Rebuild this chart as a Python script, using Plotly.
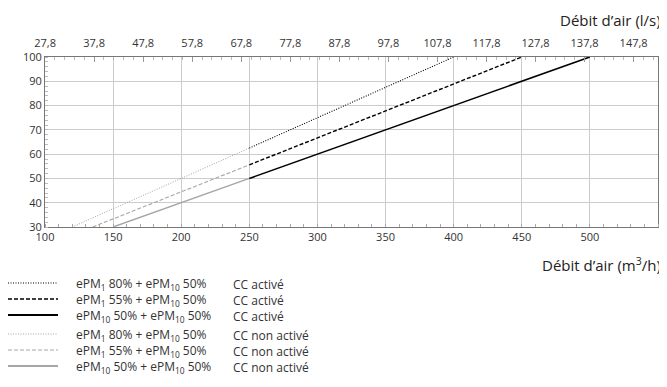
import plotly.graph_objects as go

# Data
series_names = ["ePM<sub>1</sub> 80% + ePM<sub>10</sub> 50%",
                "ePM<sub>1</sub> 55% + ePM<sub>10</sub> 50%",
                "ePM<sub>10</sub> 50% + ePM<sub>10</sub> 50%"]
# CC non activé (grey) segments
off_x = [[120, 250], [135, 250], [150, 250]]
off_y = [[30, 62.5], [30, 55.6], [30, 50]]
# CC activé (black) segments
on_x = [[250, 400], [250, 450], [250, 500]]
on_y = [[62.5, 100], [55.6, 100], [50, 100]]
dashes = ["1px,1.5px", "4px,2px", "solid"]
widths_on = [1.1, 1.4, 1.6]
widths_off = [1.0, 1.1, 1.4]
legend_w_on = [1.1, 1.4, 2.2]
legend_w_off = [1.0, 1.1, 1.8]

x_ticks = [100, 150, 200, 250, 300, 350, 400, 450, 500, 550]
y_ticks = [30, 40, 50, 60, 70, 80, 90, 100]
top_ticks = [27.8, 37.8, 47.8, 57.8, 67.8, 77.8, 87.8, 97.8, 107.8, 117.8, 127.8, 137.8, 147.8]

# page body has an 8px margin: figure is offset by 8px
OFF = 8
W, H = 667 - OFF, 387 - OFF
L, R, T, B = 45 - OFF, 9, 57 - OFF, 160
pw, ph = W - L - R, H - T - B
def px(x): return (x - OFF - L) / pw
def py(y): return (H - B - (y - OFF)) / ph

FONT = "Open Sans"
TXT = "#333333"
GREY = "#a6a6a6"
fig = go.Figure()
for i in range(3):
    fig.add_trace(go.Scatter(x=off_x[i], y=off_y[i], mode="lines",
                             line=dict(color=GREY, dash=dashes[i], width=widths_off[i]),
                             showlegend=False, hoverinfo="skip"))
for i in range(3):
    fig.add_trace(go.Scatter(x=on_x[i], y=on_y[i], mode="lines",
                             line=dict(color="#000000", dash=dashes[i], width=widths_on[i]),
                             showlegend=False, hoverinfo="skip"))
# invisible trace for top axis
fig.add_trace(go.Scatter(x=[100/3.6, 550/3.6], y=[30, 30], xaxis="x2", mode="lines",
                         line=dict(width=0), showlegend=False, hoverinfo="skip"))

axcol = "#777777"
fig.update_layout(
    width=W, height=H, margin=dict(l=L, r=R, t=T, b=B, autoexpand=False),
    paper_bgcolor="white", plot_bgcolor="white",
    font=dict(family=FONT, color=TXT, size=11),
    xaxis=dict(range=[100, 550], tickvals=x_ticks, showgrid=True, gridcolor="#cccccc",
               gridwidth=1, zeroline=False, showline=True, linecolor=axcol, linewidth=1,
               ticks="", tickfont=dict(size=11, color=TXT), automargin=False,
               minor=dict(dtick=10, ticks="inside", ticklen=3, tickcolor="#aaaaaa", showgrid=False)),
    xaxis2=dict(range=[100/3.6, 550/3.6], overlaying="x", side="top", automargin=False,
                tickvals=top_ticks, ticktext=[f"{v:.1f}".replace(".", ",") for v in top_ticks],
                showgrid=False, zeroline=False, showline=True, linecolor=axcol, linewidth=1,
                ticks="inside", ticklen=5, tickcolor="#999999", tickfont=dict(size=11, color=TXT),
                ticklabelstandoff=5,
                minor=dict(dtick=2, tick0=27.8, ticks="inside", ticklen=3, tickcolor="#bbbbbb")),
    yaxis=dict(range=[30, 100], tickvals=y_ticks, showgrid=True, gridcolor="#cccccc",
               zeroline=False, showline=True, linecolor=axcol, linewidth=1, mirror=True,
               ticks="", tickfont=dict(size=11, color=TXT), automargin=False,
               minor=dict(dtick=2, ticks="inside", ticklen=3, tickcolor="#bbbbbb", showgrid=False)),
)

ann = []
ann.append(dict(text="Débit d’air (l/s)", x=px(663), y=py(20), xref="paper", yref="paper",
                xanchor="right", yanchor="middle", showarrow=False, font=dict(size=15, color="#222")))
ann.append(dict(text="Débit d’air (m<sup>3</sup>/h)", x=px(663), y=py(264), xref="paper", yref="paper",
                xanchor="right", yanchor="middle", showarrow=False, font=dict(size=15, color="#222")))

rows_y = [283, 299, 315, 334, 350, 366]
shapes = []
for r in range(6):
    i = r % 3
    active = r < 3
    col = "#000000" if active else GREY
    w = legend_w_on[i] if active else legend_w_off[i]
    shapes.append(dict(type="line", xref="paper", yref="paper",
                       x0=px(8), x1=px(58), y0=py(rows_y[r]), y1=py(rows_y[r]),
                       line=dict(color=col, dash=dashes[i], width=w)))
    ann.append(dict(text=series_names[i], x=px(74), y=py(rows_y[r] + 1), xref="paper", yref="paper",
                    xanchor="left", yanchor="middle", showarrow=False, font=dict(size=12, color=TXT)))
    ann.append(dict(text="CC activé" if active else "CC non activé", x=px(231), y=py(rows_y[r] + 1),
                    xref="paper", yref="paper", xanchor="left", yanchor="middle", showarrow=False,
                    font=dict(size=12, color=TXT)))
fig.update_layout(annotations=ann, shapes=shapes)
fig.write_html("out.html")
